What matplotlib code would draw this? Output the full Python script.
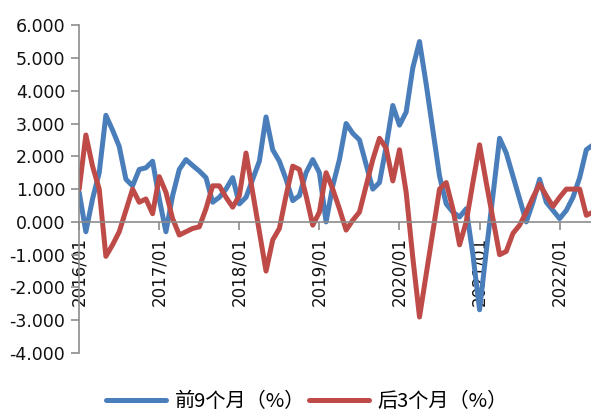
import matplotlib
matplotlib.use("Agg")
import matplotlib.pyplot as plt
import numpy as np
from matplotlib.ticker import FuncFormatter

plt.rcParams["font.family"] = ["DejaVu Sans"]

# monthly values, 2016/01 .. 2022/06
first_nine = [
    0.9, -0.3, 0.7, 1.5, 3.25, 2.8, 2.3, 1.3, 1.1, 1.6, 1.65, 1.85,
    0.7, -0.3, 0.8, 1.6, 1.9, 1.72, 1.55, 1.35, 0.6, 0.75, 1.0, 1.35,
    0.55, 0.75, 1.3, 1.85, 3.2, 2.2, 1.85, 1.3, 0.65, 0.8, 1.5, 1.9,
    1.5, 0.0, 1.1, 1.9, 3.0, 2.7, 2.5, 1.75, 1.0, 1.2, 2.3, 3.55,
    2.95, 3.35, 4.7, 5.5, 4.2, 2.8, 1.4, 0.55, 0.3, 0.15, 0.4, -1.0,
    -2.68, -0.9, 0.8, 2.55, 2.1, 1.4, 0.7, 0.0, 0.6, 1.3, 0.6, 0.35,
    0.1, 0.35, 0.75, 1.35, 2.2, 2.35,
]
last_three = [
    1.0, 2.65, 1.7, 1.0, -1.05, -0.7, -0.3, 0.35, 1.0, 0.6, 0.7, 0.25,
    1.38, 0.9, 0.1, -0.4, -0.3, -0.2, -0.15, 0.4, 1.1, 1.1, 0.75, 0.45,
    0.8, 2.1, 0.9, -0.3, -1.5, -0.55, -0.2, 0.8, 1.7, 1.6, 0.8, -0.1,
    0.3, 1.5, 1.0, 0.4, -0.25, 0.05, 0.3, 1.1, 1.9, 2.55, 2.25, 1.25,
    2.2, 0.9, -1.1, -2.9, -1.6, -0.3, 1.0, 1.2, 0.4, -0.7, 0.0, 1.2,
    2.35, 1.2, 0.1, -1.0, -0.9, -0.35, -0.1, 0.3, 0.75, 1.15, 0.8, 0.47,
    0.75, 1.0, 1.0, 1.0, 0.2, 0.3,
]
year_labels = ["2016/01", "2017/01", "2018/01", "2019/01", "2020/01", "2021/01", "2022/01"]
series_names = ["前9个月（%）", "后3个月（%）"]
colors = ["#4A7EBB", "#BE4B48"]

fig = plt.figure(figsize=(5.91, 4.12), dpi=100)
ax = fig.add_axes([0.134, 0.143, 0.866, 0.796])

x = np.arange(len(first_nine))
for values, name, color in zip([first_nine, last_three], series_names, colors):
    ax.plot(x, values, color=color, lw=3.6, label=name,
            solid_joinstyle="round", solid_capstyle="round")

# category axis sits on the zero line
for side in ("top", "right"):
    ax.spines[side].set_visible(False)
ax.spines["bottom"].set_position(("data", 0))
for side in ("left", "bottom"):
    ax.spines[side].set_color("#8c8c8c")
    ax.spines[side].set_linewidth(1.2)

ax.set_xlim(0, 76.7)
ax.set_ylim(-4, 6)
ax.set_yticks(np.arange(-4, 7))
ax.yaxis.set_major_formatter(FuncFormatter(lambda v, _: f"{v:.3f}"))
ax.set_xticks(np.arange(len(year_labels)) * 12)
ax.set_xticklabels(year_labels)

ax.tick_params(axis="y", length=6, width=1.2, color="#8c8c8c", pad=4,
               labelsize=12.5, labelcolor="#111111")
ax.tick_params(axis="x", length=6, width=1.2, color="#8c8c8c", pad=5,
               labelsize=12, labelcolor="#111111", labelrotation=90)

fig.legend(loc="center", bbox_to_anchor=(0.519, 0.026), ncol=2, frameon=False,
           prop={"family": ["Noto Sans CJK SC", "DejaVu Sans"], "size": 14.5},
           handlelength=3.0, handletextpad=0.4, columnspacing=0.2)

fig.savefig("out.png", dpi=100)
